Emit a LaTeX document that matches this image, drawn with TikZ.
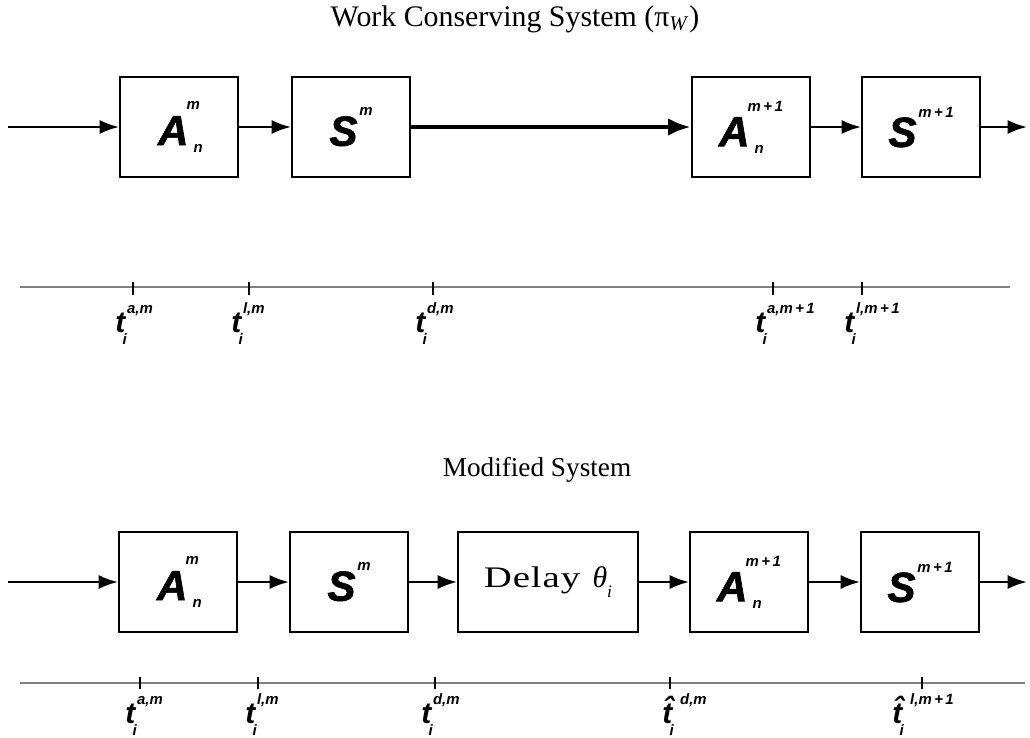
\documentclass[tikz,border=0pt]{standalone}
\usepackage{fontspec}
\setmainfont{Liberation Serif}
\setsansfont{Liberation Sans}
\newfontfamily\widefont{Liberation Serif}[FakeStretch=1.3,LetterSpace=3]
\usepackage{tikz}
\usetikzlibrary{arrows.meta,positioning}

\newcommand{\symfont}{\sffamily\bfseries\itshape\fontsize{24}{24}\selectfont\addfontfeature{FakeBold=1.5}}
\newcommand{\supfont}{\sffamily\bfseries\itshape\fontsize{8.5}{8.5}\selectfont}
\newcommand{\stampfont}{\sffamily\bfseries\itshape\fontsize{17}{17}\selectfont}
% arrival block letter with super- and subscript
\newcommand{\asym}[3]{{\symfont #1}\hspace{-1pt}%
  \rlap{\raisebox{20pt}{\supfont #2}}%
  \rlap{\hspace{4pt}\raisebox{-4pt}{\supfont #3}}%
  \hphantom{\supfont #2}}
% service block letter with superscript
\newcommand{\ssym}[2]{{\symfont #1}\hspace{1pt}\raisebox{17pt}{\supfont #2}}
% time stamp label
\newcommand{\tstamp}[3][1pt]{{\stampfont #2}%
  \rlap{\hspace{#1}\raisebox{10.8pt}{\supfont #3}}%
  \hspace{-1.5pt}\raisebox{-7pt}{\supfont i}}

\begin{document}
\begin{tikzpicture}[
    x=0.02cm, y=-0.02cm,
    blk/.style={draw, line width=1.1pt, minimum width=2.36cm, minimum height=2cm, inner sep=0pt},
    flow/.style={line width=1.4pt, -{Latex[length=11pt,width=8pt]}},
    heavy/.style={line width=2.8pt, -{Latex[length=13pt,width=10pt]}},
    timeline/.style={gray, line width=0.8pt},
    tick/.style={line width=0.6pt},
    stamp/.style={anchor=base west, inner sep=0pt}
]
\useasboundingbox (0,0) rectangle (1030,737);

% work conserving system
\node[font=\fontsize{17}{17}\selectfont] (title1) at (515,19)
  {Work Conserving System (π\textsubscript{\textit{W}})};
\coordinate (in1) at (8,127);
\coordinate (out1) at (1027,127);
\node[blk] (a1) at (179,127) {\asym{A}{m}{n}};
\node[blk] (s1) at (351,127) {\ssym{S}{m}};
\node[blk] (a2) at (751,127) {\asym{A}{m\,+\,1}{n}};
\node[blk] (s2) at (921,127) {\ssym{S}{m\,+\,1}};
\draw[flow] (in1) -- (a1);
\draw[flow] (a1) -- (s1);
\draw[heavy] (s1) -- (a2);
\draw[flow] (a2) -- (s2);
\draw[flow] (s2) -- (out1);

\coordinate (l1) at (20,287);
\coordinate (r1) at (1010,287);
\draw[timeline] (l1) -- (r1);
\foreach \tx/\tn in {133/am, 249/lm, 433/dm, 773/an, 862/ln}
  \draw[tick] (\tx,282) -- (\tx,295) coordinate (t1\tn);
\node[stamp] (ta1) at (115,332) {\tstamp{t}{a,m}};
\node[stamp] (tl1) at (231,332) {\tstamp{t}{l,m}};
\node[stamp] (td1) at (415,332) {\tstamp{t}{d,m}};
\node[stamp] (tan1) at (755,332) {\tstamp{t}{a,m\,+\,1}};
\node[stamp] (tln1) at (844,332) {\tstamp{t}{l,m\,+\,1}};

% modified system
\node[font=\fontsize{15.5}{15.5}\selectfont] (title2) at (537,470) {Modified System};
\coordinate (in2) at (8,582);
\coordinate (out2) at (1027,582);
\node[blk] (a3) at (178,582) {\asym{A}{m}{n}};
\node[blk] (s3) at (349,582) {\ssym{S}{m}};
\node[blk, minimum width=3.6cm] (dl) at (548,582)
  {{\widefont\fontsize{17}{17}\selectfont Delay}\hspace{7pt}{\fontsize{17}{17}\selectfont\textit{θ}}\raisebox{-6pt}{\fontsize{10}{10}\selectfont\textit{i}}};
\node[blk] (a4) at (749,582) {\asym{A}{m\,+\,1}{n}};
\node[blk] (s4) at (920,582) {\ssym{S}{m\,+\,1}};
\draw[flow] (in2) -- (a3);
\draw[flow] (a3) -- (s3);
\draw[flow] (s3) -- (dl);
\draw[flow] (dl) -- (a4);
\draw[flow] (a4) -- (s4);
\draw[flow] (s4) -- (out2);

\coordinate (l2) at (20,683);
\coordinate (r2) at (1025,683);
\draw[timeline] (l2) -- (r2);
\foreach \tx/\tn in {140/am, 258/lm, 435/dm, 670/hd, 922/hl}
  \draw[tick] (\tx,677) -- (\tx,689) coordinate (t2\tn);
\node[stamp] (ta2) at (125,723) {\tstamp{t}{a,m}};
\node[stamp] (tl2) at (245,723) {\tstamp{t}{l,m}};
\node[stamp] (td2) at (421,723) {\tstamp{t}{d,m}};
\node[stamp] (thd2) at (662,723) {\tstamp[4.5pt]{\^{t}}{d,m}};
\node[stamp] (thl2) at (892,723) {\tstamp[4.5pt]{\^{t}}{l,m\,+\,1}};
\end{tikzpicture}
\end{document}
